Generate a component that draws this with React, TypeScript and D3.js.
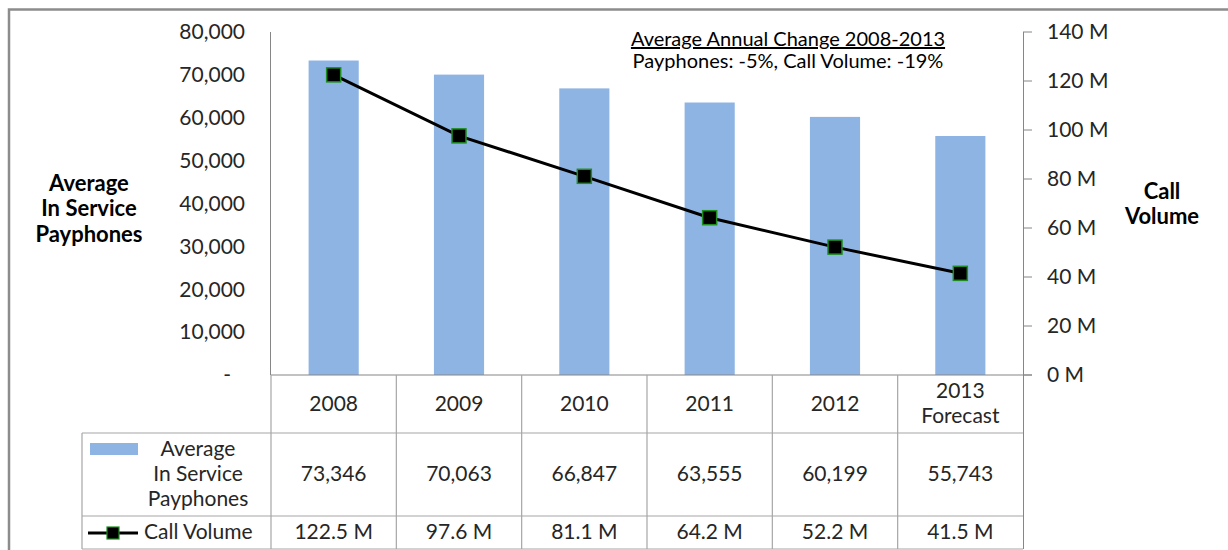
import React from "react";
import * as d3 from "d3";

const years = ["2008", "2009", "2010", "2011", "2012", "2013"];
const yearLabels = [["2008"], ["2009"], ["2010"], ["2011"], ["2012"], ["2013", "Forecast"]];
const payphones = [73346, 70063, 66847, 63555, 60199, 55743];
const callVolume = [122.5, 97.6, 81.1, 64.2, 52.2, 41.5]; // millions
const leftTicks = [0, 10000, 20000, 30000, 40000, 50000, 60000, 70000, 80000];
const rightTicks = [0, 20, 40, 60, 80, 100, 120, 140];

const W = 1228;
const H = 550;
const plot = { left: 271, right: 1023, top: 32, bottom: 375 };
const FONT = "Lato, 'Open Sans', sans-serif";
const TXT = "#262626";
const GRID = "#a6a6a6";
const FS = 21;

const App = () => {
  const x = d3.scaleBand().domain(years).range([plot.left, plot.right]).padding(0);
  const yL = d3.scaleLinear().domain([0, 80000]).range([plot.bottom, plot.top]);
  const yR = d3.scaleLinear().domain([0, 140]).range([plot.bottom, plot.top]);
  const fmt = d3.format(",");
  const bw = x.bandwidth() * 0.4;
  const cx = (d: string) => (x(d) as number) + x.bandwidth() / 2;

  const line = d3
    .line<number>()
    .x((_, i) => cx(years[i]))
    .y((d) => yR(d));

  const rowTop = plot.bottom;
  const headBottom = 433;
  const payBottom = 516;
  const tableBottom = 549;
  const tableLeft = 82;

  return (
    <svg
      width={W}
      height={H}
      style={{ position: "absolute", left: 0, top: 0, background: "#fff" }}
      fontFamily={FONT}
    >
      {/* outer frame */}
      <path d={`M9,${H + 5} V9.5 H${W + 5}`} fill="none" stroke="#8c8c8c" strokeWidth={2.5} />

      {/* bars */}
      {payphones.map((v, i) => (
        <rect
          key={years[i]}
          x={cx(years[i]) - bw / 2}
          y={yL(v)}
          width={bw}
          height={yL(0) - yL(v)}
          fill="#8eb4e3"
        />
      ))}

      {/* left axis */}
      <line x1={plot.left - 0.5} x2={plot.left - 0.5} y1={plot.top} y2={plot.bottom} stroke="#868686" />
      {leftTicks.map((t) => (
        <text
          key={t}
          x={t === 0 ? 231 : 245}
          y={yL(t)}
          dy="0.35em"
          textAnchor="end"
          fontSize={FS}
          fill={TXT}
        >
          {t === 0 ? "-" : fmt(t)}
        </text>
      ))}

      {/* right axis */}
      <line x1={plot.right + 0.5} x2={plot.right + 0.5} y1={plot.top} y2={tableBottom} stroke="#868686" />
      {rightTicks.map((t) => (
        <g key={t}>
          <line x1={plot.right} x2={plot.right + 9} y1={yR(t)} y2={yR(t)} stroke="#868686" />
          <text x={1047} y={yR(t)} dy="0.35em" fontSize={FS} fill={TXT}>
            {t} M
          </text>
        </g>
      ))}

      {/* axis titles */}
      <text y={183} dy="0.35em" textAnchor="middle" fontSize={22} fontWeight="bold" fill="#000">
        <tspan x={89}>Average</tspan>
        <tspan x={89} dy={25}>In Service</tspan>
        <tspan x={89} dy={26}>Payphones</tspan>
      </text>
      <text y={191} dy="0.35em" textAnchor="middle" fontSize={22} fontWeight="bold" fill="#000">
        <tspan x={1162}>Call</tspan>
        <tspan x={1162} dy={25}>Volume</tspan>
      </text>

      {/* annotation */}
      <text x={788} y={39} dy="0.35em" textAnchor="middle" fontSize={20} fill="#000" textDecoration="underline">
        Average Annual Change 2008-2013
      </text>
      <text x={788} y={61} dy="0.35em" textAnchor="middle" fontSize={20} fill="#000">
        Payphones: -5%, Call Volume: -19%
      </text>

      {/* data table grid */}
      <g stroke={GRID} strokeWidth={1.2} fill="none">
        <line x1={plot.left} x2={plot.right + 9} y1={rowTop} y2={rowTop} stroke="#868686" />
        <line x1={tableLeft} x2={plot.right} y1={headBottom} y2={headBottom} />
        <line x1={tableLeft} x2={plot.right} y1={payBottom} y2={payBottom} />
        <line x1={tableLeft} x2={plot.right} y1={tableBottom} y2={tableBottom} />
        <line x1={tableLeft} x2={tableLeft} y1={headBottom} y2={tableBottom} />
        {years.map((d) => (
          <line key={d} x1={x(d)} x2={x(d)} y1={rowTop} y2={tableBottom} />
        ))}
      </g>

      {/* header row */}
      {yearLabels.map((lbls, i) => (
        <text key={years[i]} textAnchor="middle" fontSize={FS} fill={TXT}>
          {lbls.length === 1 ? (
            <tspan x={cx(years[i])} y={404} dy="0.35em">{lbls[0]}</tspan>
          ) : (
            <>
              <tspan x={cx(years[i])} y={391} dy="0.35em">{lbls[0]}</tspan>
              <tspan x={cx(years[i])} y={416} dy="0.35em">{lbls[1]}</tspan>
            </>
          )}
        </text>
      ))}

      {/* payphones row */}
      <rect x={90} y={443} width={48} height={12} fill="#8eb4e3" />
      <text textAnchor="middle" fontSize={FS} fill={TXT}>
        <tspan x={198} y={449} dy="0.35em">Average</tspan>
        <tspan x={198} y={474} dy="0.35em">In Service</tspan>
        <tspan x={198} y={499} dy="0.35em">Payphones</tspan>
      </text>
      {payphones.map((v, i) => (
        <text key={years[i]} x={cx(years[i])} y={474} dy="0.35em" textAnchor="middle" fontSize={FS} fill={TXT}>
          {fmt(v)}
        </text>
      ))}

      {/* call volume row */}
      <line x1={88} x2={138} y1={533} y2={533} stroke="#000" strokeWidth={3} />
      <rect x={107} y={527} width={12} height={12} fill="#000" stroke="#1e8c1e" strokeWidth={1.2} />
      <text x={144} y={532} dy="0.35em" fontSize={FS} fill={TXT}>
        Call Volume
      </text>
      {callVolume.map((v, i) => (
        <text key={years[i]} x={cx(years[i])} y={532} dy="0.35em" textAnchor="middle" fontSize={FS} fill={TXT}>
          {v.toFixed(1)} M
        </text>
      ))}

      {/* call volume line */}
      <path d={line(callVolume) || ""} fill="none" stroke="#000" strokeWidth={3} />
      {callVolume.map((v, i) => (
        <rect
          key={years[i]}
          x={cx(years[i]) - 7}
          y={yR(v) - 7}
          width={14}
          height={14}
          fill="#000"
          stroke="#1e8c1e"
          strokeWidth={1.5}
        />
      ))}
    </svg>
  );
};

export default App;
